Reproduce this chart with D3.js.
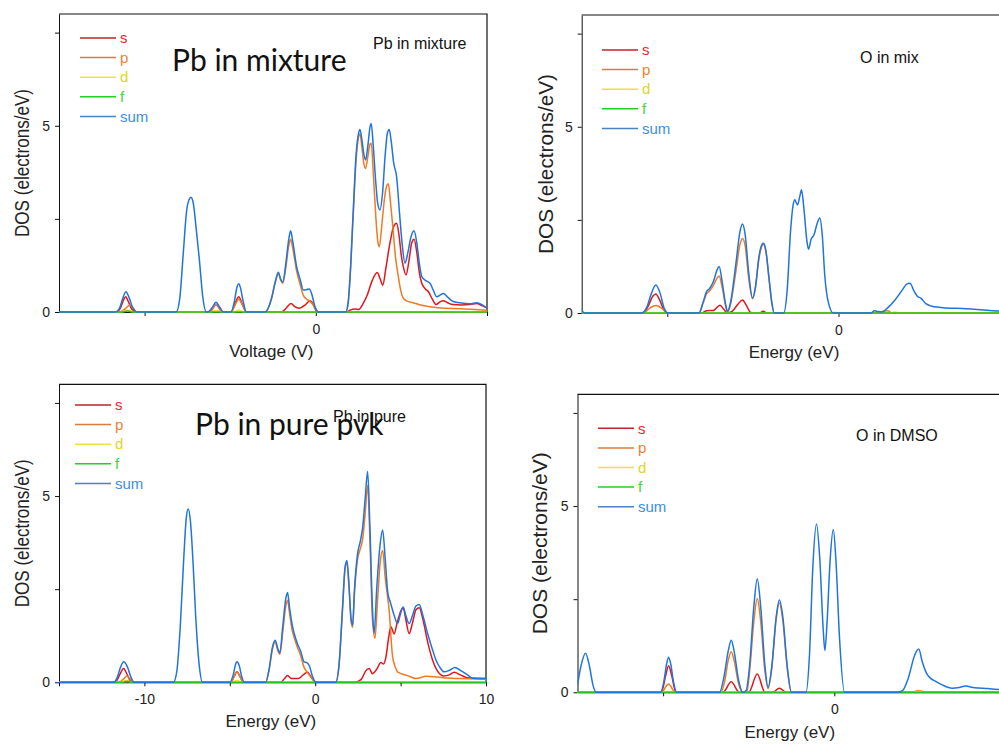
<!DOCTYPE html>
<html lang="en">
<head>
  <meta charset="utf-8">
  <title>Projected DOS, Pb and O</title>
  <style type="text/css">
    body { margin: 0; background: #fff; }
    svg { display: block; }
    text { font-family: "Liberation Sans", Arial, sans-serif; fill: #222; }
    .big { font-family: Lato, "Noto Sans", sans-serif; }
    .axis text { font-size: 14px; fill: #222; }
    .axis line, .axis path { stroke: #111; }
  </style>
</head>
<body>

<div id="graphic"></div>

<script src="https://cdnjs.cloudflare.com/ajax/libs/d3/7.8.5/d3.min.js"></script>
<script>
// ---- data: [energy (eV), DOS (electrons/eV)] ----
var energyDomain = [-15, 10];
var dosDomain = [0, 8];
var orbitals = ['s', 'p', 'd', 'f', 'sum'];

// Pb in mixture
var pbMixSum = [[-15,0],[-11.7,0],[-11.45,0.12],[-11.25,0.4],[-11.09,0.545],[-10.9,0.38],[-10.7,0.12],[-10.45,0],
  [-8.15,0],[-7.95,0.35],[-7.74,1.58],[-7.55,2.7],[-7.4,3.02],[-7.29,3.08],[-7.15,2.9],[-7.0,2.3],[-6.8,1.4],[-6.6,0.4],[-6.4,0],
  [-6.3,0],[-6.05,0.12],[-5.83,0.26],[-5.6,0.12],[-5.4,0],
  [-4.95,0],[-4.75,0.3],[-4.6,0.68],[-4.5,0.76],[-4.4,0.65],[-4.25,0.3],[-4.05,0],
  [-2.95,0],[-2.6,0.35],[-2.35,0.85],[-2.19,1.07],[-2.05,0.88],[-1.93,0.8],[-1.75,1.3],[-1.58,1.95],[-1.47,2.18],[-1.35,1.9],[-1.12,1.22],[-0.9,0.85],[-0.73,0.59],[-0.55,0.6],[-0.38,0.62],[-0.25,0.5],[-0.05,0.15],[0.15,0],
  [1.75,0],[1.9,0.3],[2.0,0.95],[2.19,2.74],[2.35,4.2],[2.5,4.8],[2.58,4.9],[2.7,4.6],[2.8,4.25],[2.91,4.08],[3.05,4.5],[3.16,4.95],[3.24,5.06],[3.35,4.5],[3.5,3.5],[3.62,2.9],[3.75,2.74],[3.9,3.2],[4.05,4.2],[4.18,4.8],[4.29,4.9],[4.4,4.6],[4.55,4.0],[4.72,3.63],[4.9,2.6],[5.05,1.8],[5.21,1.31],[5.38,1.6],[5.55,2.0],[5.74,2.18],[5.9,1.85],[6.05,1.3],[6.19,0.95],[6.4,0.85],[6.67,0.77],[6.85,0.6],[7.06,0.41],[7.25,0.45],[7.45,0.5],[7.7,0.4],[8.03,0.28],[8.5,0.24],[9.0,0.22],[9.4,0.25],[9.7,0.2],[10,0.1]];
var pbMixS = [[-15,0],[-11.65,0],[-11.4,0.12],[-11.2,0.35],[-11.1,0.41],[-10.95,0.28],[-10.75,0.08],[-10.5,0],
  [-6.2,0],[-5.83,0.2],[-5.45,0],[-4.95,0],[-4.7,0.25],[-4.5,0.41],[-4.3,0.22],[-4.05,0],
  [-2.0,0],[-1.7,0.12],[-1.45,0.23],[-1.25,0.15],[-0.95,0.1],[-0.6,0.2],[-0.35,0.3],[-0.2,0.25],[0.0,0.05],[0.2,0],
  [1.8,0],[2.0,0.05],[2.3,0.08],[2.5,0.07],[2.77,0.23],[3.0,0.45],[3.3,0.85],[3.59,1.06],[3.75,0.9],[3.91,0.72],[4.1,1.2],[4.35,1.9],[4.55,2.3],[4.72,2.38],[4.85,2.1],[5.0,1.5],[5.11,1.22],[5.27,1.0],[5.45,1.4],[5.6,1.85],[5.74,1.95],[5.9,1.6],[6.05,1.05],[6.19,0.77],[6.4,0.62],[6.57,0.55],[6.8,0.35],[7.02,0.2],[7.25,0.27],[7.45,0.3],[7.7,0.25],[8.0,0.2],[8.5,0.19],[9.0,0.2],[9.4,0.23],[9.7,0.17],[10,0.11]];
var pbMixP = [[-15,0],[-11.5,0],[-11.1,0.1],[-10.85,0.19],[-10.65,0.1],[-10.45,0],
  [-6.2,0],[-5.83,0.2],[-5.45,0],[-4.95,0],[-4.7,0.2],[-4.5,0.35],[-4.3,0.2],[-4.05,0],
  [-2.95,0],[-2.6,0.33],[-2.35,0.82],[-2.19,1.03],[-2.05,0.85],[-1.93,0.77],[-1.75,1.2],[-1.58,1.78],[-1.47,1.95],[-1.35,1.72],[-1.12,1.1],[-0.9,0.72],[-0.73,0.45],[-0.55,0.35],[-0.38,0.3],[-0.2,0.22],[0.0,0.08],[0.15,0],
  [1.75,0],[1.9,0.28],[2.0,0.9],[2.19,2.65],[2.35,4.05],[2.5,4.7],[2.58,4.78],[2.7,4.4],[2.8,4.0],[2.9,3.85],[3.05,4.2],[3.16,4.5],[3.24,4.53],[3.35,3.8],[3.5,2.6],[3.62,1.9],[3.71,1.75],[3.85,2.3],[4.0,3.0],[4.15,3.4],[4.24,3.44],[4.35,3.0],[4.5,2.29],[4.65,1.5],[4.82,0.95],[4.95,0.6],[5.11,0.37],[5.3,0.3],[5.69,0.25],[6.2,0.18],[6.67,0.14],[7.5,0.1],[8.5,0.09],[9.5,0.06],[10,0.05]];
var pbMixD = [[-15,0],[-11.4,0],[-11.0,0.05],[-10.6,0],[-6.1,0],[-5.83,0.04],[-5.5,0],[-4.8,0],[-4.5,0.05],[-4.2,0],[10,0]];
var pbMixF = [[-15,0],[-11.3,0],[-11.0,0.03],[-10.7,0],[10,0]];

// O in mix
var oMixSum = [[-15,0.1],[-14.85,0],[-11.5,0],[-11.2,0.15],[-10.95,0.5],[-10.67,0.75],[-10.4,0.5],[-10.2,0.15],[-9.95,0],
  [-8.15,0],[-7.9,0.3],[-7.7,0.58],[-7.56,0.64],[-7.3,0.85],[-7.1,1.15],[-6.97,1.25],[-6.8,0.85],[-6.6,0.25],[-6.48,0.04],[-6.3,0.3],[-6.0,1.3],[-5.75,2.2],[-5.61,2.39],[-5.45,2.1],[-5.25,1.1],[-5.02,0.4],[-4.85,0.7],[-4.65,1.5],[-4.45,1.85],[-4.38,1.87],[-4.25,1.7],[-4.05,0.9],[-3.9,0.3],[-3.75,0],
  [-3.2,0],[-3.0,0.6],[-2.8,2.2],[-2.65,2.9],[-2.55,3.04],[-2.4,2.9],[-2.25,3.15],[-2.16,3.31],[-2.0,2.7],[-1.85,1.95],[-1.75,1.71],[-1.6,1.98],[-1.43,2.1],[-1.25,2.4],[-1.09,2.55],[-0.95,2.1],[-0.8,1.0],[-0.6,0.3],[-0.3,0],
  [1.9,0],[2.1,0.06],[2.3,0.04],[2.55,0.03],[2.9,0.15],[3.3,0.35],[3.7,0.6],[4.0,0.78],[4.18,0.8],[4.4,0.6],[4.6,0.45],[4.81,0.4],[5.1,0.25],[5.39,0.19],[6.0,0.15],[6.56,0.13],[7.2,0.12],[7.9,0.1],[8.8,0.07],[9.4,0.05],[10,0.04]];
var oMixS = [[-15,0],[-11.4,0],[-11.1,0.2],[-10.85,0.45],[-10.67,0.51],[-10.45,0.35],[-10.2,0.08],[-10.0,0],
  [-8.0,0],[-7.7,0.06],[-7.3,0.07],[-7.1,0.15],[-6.92,0.21],[-6.7,0.1],[-6.5,0],[-6.2,0.05],[-5.85,0.25],[-5.61,0.35],[-5.4,0.22],[-5.15,0.02],[-5.0,0],[-4.6,0],[-4.4,0.05],[-4.2,0],[10,0]];
var oMixP = [[-15,0],[-11.4,0],[-11.0,0.14],[-10.67,0.2],[-10.3,0.12],[-10.0,0],
  [-8.15,0],[-7.9,0.28],[-7.7,0.52],[-7.56,0.58],[-7.3,0.75],[-7.1,0.93],[-6.97,0.99],[-6.8,0.7],[-6.6,0.2],[-6.48,0.03],[-6.3,0.25],[-6.0,1.1],[-5.75,1.85],[-5.61,2.0],[-5.45,1.8],[-5.25,0.95],[-5.02,0.38],[-4.85,0.68],[-4.65,1.45],[-4.45,1.82],[-4.38,1.84],[-4.25,1.67],[-4.05,0.88],[-3.9,0.28],[-3.75,0],
  [2.3,0],[2.6,0.05],[2.9,0.06],[3.1,0],[10,0]];
var oMixD = [[-15,0],[-0.4,0],[-0.2,0.02],[0,0],[3.0,0],[3.3,0.03],[3.6,0],[10,0]];
var oMixF = [[-15,0],[10,0]];

// Pb in pure pvk
var pbPureSum = [[-15,0],[-11.8,0],[-11.6,0.12],[-11.4,0.4],[-11.22,0.55],[-11.0,0.42],[-10.8,0.15],[-10.6,0],
  [-8.3,0],[-8.1,0.3],[-7.9,1.5],[-7.7,3.3],[-7.55,4.4],[-7.44,4.65],[-7.3,4.3],[-7.15,3.2],[-7.0,1.8],[-6.8,0.5],[-6.6,0],
  [-5.0,0],[-4.8,0.2],[-4.65,0.5],[-4.58,0.55],[-4.45,0.45],[-4.3,0.15],[-4.15,0],
  [-2.9,0],[-2.7,0.35],[-2.5,0.95],[-2.34,1.13],[-2.2,0.92],[-2.07,0.79],[-1.9,1.5],[-1.72,2.25],[-1.62,2.41],[-1.5,2.0],[-1.35,1.55],[-1.23,1.31],[-1.05,1.05],[-0.84,0.82],[-0.65,0.55],[-0.49,0.53],[-0.35,0.45],[-0.15,0.15],[0.05,0],
  [1.2,0],[1.4,0.5],[1.6,2.0],[1.75,3.1],[1.86,3.27],[1.98,2.6],[2.1,1.7],[2.19,1.53],[2.3,2.5],[2.48,3.45],[2.65,3.8],[2.78,4.16],[2.92,4.9],[3.07,5.66],[3.2,4.2],[3.35,2.0],[3.45,1.31],[3.6,2.5],[3.8,3.7],[3.95,4.09],[4.1,3.3],[4.25,2.4],[4.4,2.15],[4.62,1.8],[4.82,1.58],[5.0,1.85],[5.15,2.02],[5.3,1.8],[5.5,1.58],[5.7,1.8],[5.9,2.05],[6.09,2.09],[6.3,1.8],[6.58,1.31],[6.85,0.9],[7.07,0.6],[7.3,0.4],[7.55,0.28],[7.85,0.32],[8.18,0.4],[8.5,0.32],[8.92,0.2],[9.2,0.11],[10,0.1]];
var pbPureS = [[-15,0],[-11.7,0],[-11.45,0.2],[-11.22,0.37],[-11.0,0.2],[-10.75,0],
  [-4.95,0],[-4.75,0.15],[-4.58,0.28],[-4.4,0.15],[-4.2,0],
  [-2.0,0],[-1.8,0.1],[-1.62,0.18],[-1.4,0.1],[-1.0,0.1],[-0.7,0.2],[-0.45,0.27],[-0.25,0.15],[0.0,0],
  [2.3,0],[2.7,0.08],[2.95,0.3],[3.16,0.37],[3.35,0.23],[3.6,0.35],[3.85,0.53],[4.0,0.49],[4.15,0.7],[4.3,1.2],[4.43,1.49],[4.62,1.3],[4.8,1.6],[5.0,1.9],[5.15,2.0],[5.3,1.7],[5.5,1.31],[5.7,1.6],[5.9,1.95],[6.09,2.0],[6.3,1.7],[6.6,1.05],[6.87,0.6],[7.1,0.35],[7.55,0.17],[7.85,0.2],[8.14,0.27],[8.5,0.2],[8.92,0.12],[10,0.1]];
var pbPureP = [[-15,0],[-11.5,0],[-11.2,0.1],[-11.03,0.17],[-10.85,0.1],[-10.6,0],
  [-4.95,0],[-4.58,0.28],[-4.2,0],
  [-2.9,0],[-2.7,0.33],[-2.5,0.9],[-2.34,1.08],[-2.2,0.87],[-2.07,0.75],[-1.9,1.35],[-1.72,2.05],[-1.62,2.2],[-1.5,1.85],[-1.35,1.4],[-1.23,1.2],[-1.05,0.95],[-0.84,0.7],[-0.65,0.4],[-0.49,0.28],[-0.35,0.2],[-0.15,0.08],[0.05,0],
  [1.2,0],[1.4,0.48],[1.6,1.95],[1.75,3.05],[1.86,3.2],[1.98,2.55],[2.1,1.65],[2.19,1.48],[2.3,2.4],[2.48,3.3],[2.65,3.6],[2.78,3.85],[2.92,4.5],[3.07,5.28],[3.2,3.9],[3.35,1.7],[3.5,1.18],[3.65,2.2],[3.8,3.2],[3.95,3.54],[4.1,2.8],[4.33,1.93],[4.53,0.69],[4.7,0.4],[4.82,0.28],[5.41,0.18],[5.9,0.1],[6.5,0.16],[7.0,0.15],[7.5,0.12],[8.5,0.1],[10,0.08]];
var pbPureD = [[-15,0],[-11.5,0],[-11.1,0.05],[-10.7,0],[-4.9,0],[-4.58,0.05],[-4.3,0],[10,0]];
var pbPureF = [[-15,0],[-11.3,0],[-11.0,0.03],[-10.7,0],[10,0]];

// O in DMSO
var oDmsoSum = [[-15,0.2],[-14.8,0.7],[-14.53,1.05],[-14.3,0.7],[-14.1,0.2],[-13.9,0],
  [-10.15,0],[-9.95,0.3],[-9.8,0.75],[-9.68,0.94],[-9.55,0.75],[-9.4,0.3],[-9.2,0],
  [-6.7,0],[-6.45,0.4],[-6.2,1.1],[-6.02,1.4],[-5.85,1.1],[-5.6,0.35],[-5.35,0],[-5.15,0.05],[-4.95,0.7],[-4.7,2.3],[-4.5,3.04],[-4.3,2.3],[-4.05,0.7],[-3.87,0.13],[-3.65,0.7],[-3.4,2.0],[-3.21,2.48],[-3.0,2.0],[-2.75,0.7],[-2.5,0],
  [-1.65,0],[-1.45,1.0],[-1.25,3.4],[-1.04,4.52],[-0.85,3.6],[-0.65,1.7],[-0.55,1.12],[-0.42,1.9],[-0.25,3.5],[-0.06,4.37],[0.1,3.5],[0.3,1.5],[0.6,0],
  [3.7,0],[4.0,0.05],[4.3,0.35],[4.7,1.0],[4.93,1.16],[5.15,0.8],[5.4,0.5],[5.61,0.38],[5.9,0.3],[6.3,0.2],[6.88,0.11],[7.3,0.13],[7.66,0.17],[8.2,0.12],[9.0,0.1],[9.71,0.07],[10,0.05]];
var oDmsoS = [[-15,0],[-10.1,0],[-9.85,0.45],[-9.68,0.71],[-9.5,0.45],[-9.25,0],
  [-6.5,0],[-6.02,0.28],[-5.55,0],[-5.0,0],[-4.5,0.49],[-4.05,0],[-3.6,0],[-3.21,0.11],[-2.8,0],[10,0]];
var oDmsoP = [[-15,0],[-10.1,0],[-9.68,0.22],[-9.3,0],
  [-6.65,0],[-6.4,0.3],[-6.2,0.85],[-6.02,1.09],[-5.85,0.85],[-5.6,0.25],[-5.35,0],[-5.1,0.03],[-4.95,0.55],[-4.7,1.9],[-4.5,2.52],[-4.3,1.9],[-4.05,0.55],[-3.87,0.1],[-3.65,0.65],[-3.4,1.95],[-3.21,2.4],[-3.0,1.9],[-2.75,0.65],[-2.5,0],
  [4.5,0],[4.93,0.05],[5.3,0],[10,0]];
var oDmsoD = [[-15,0],[-9.9,0],[-9.68,0.03],[-9.4,0],[4.6,0],[4.93,0.03],[5.2,0],[10,0]];
var oDmsoF = [[-15,0],[10,0]];

// ---- styling ----
var lineColours = {s:'#e3161c', p:'#ef7a22', d:'#f0dc1e', f:'#22c322', sum:'#1f74e0'};
var keyColours  = {s:'#bf2328', p:'#df7a3c', d:'#f0e040', f:'#22d022', sum:'#4a80c4'};
var keyText     = {s:'#e8262a', p:'#ef7f33', d:'#dcd62a', f:'#3cd83c', sum:'#3a8ee6'};

// panel layout (pixels on the 999x745 page)
var panels = [
  {id:'pbMix', data:{s:pbMixS, p:pbMixP, d:pbMixD, f:pbMixF, sum:pbMixSum},
   left:59, right:487, top:14, zero:312, xTicks:[-10,0,10], xLabels:[0],
   xTitle:'Voltage (V)', xTitleY:357, yTitleX:29, yTitleLen:148,
   keyX:80, keyY:38, note:'Pb in mixture', noteX:373, noteY:49,
   big:'Pb in mixture', bigX:172, bigY:71},
  {id:'oMix', data:{s:oMixS, p:oMixP, d:oMixD, f:oMixF, sum:oMixSum},
   left:581.7, right:1009.7, top:15, zero:313, xTicks:[-10,0,10], xLabels:[0],
   xTitle:'Energy (eV)', xTitleY:358, yTitleX:553, yTitleLen:180,
   keyX:602, keyY:50, note:'O in mix', noteX:860, noteY:63},
  {id:'pbPure', data:{s:pbPureS, p:pbPureP, d:pbPureD, f:pbPureF, sum:pbPureSum},
   left:59, right:486, top:384.3, zero:682.3, xTicks:[-15,-10,-5,0,5,10], xLabels:[-10,0,10],
   xTitle:'Energy (eV)', xTitleY:727, yTitleX:29, yTitleLen:148,
   keyX:75, keyY:405, big:'Pb in pure pvk', bigX:195, bigY:435,
   note:'Pb in pure', noteX:333, noteY:422},
  {id:'oDmso', data:{s:oDmsoS, p:oDmsoP, d:oDmsoD, f:oDmsoF, sum:oDmsoSum},
   left:577.5, right:1005.5, top:394.3, zero:692.3, xTicks:[-10,0,10], xLabels:[0],
   xTitle:'Energy (eV)', xTitleY:738, yTitleX:547, yTitleLen:182,
   keyX:598, keyY:428.3, note:'O in DMSO', noteX:856, noteY:441}
];

var svg = d3.select('#graphic').append('svg')
  .attr('width', 999)
  .attr('height', 745);

function drawPanel(p) {
  var x = d3.scaleLinear().domain(energyDomain).range([p.left, p.right]);
  var y = d3.scaleLinear().domain(dosDomain).range([p.zero, p.top]);

  var g = svg.append('g').attr('class', 'panel ' + p.id);

  g.append('clipPath').attr('id', 'clip-' + p.id)
    .append('rect')
    .attr('x', p.left).attr('y', p.top)
    .attr('width', p.right - p.left).attr('height', p.zero - p.top + 2);

  // frame (top and right)
  g.append('path')
    .attr('d', 'M' + p.left + ',' + p.top + 'H' + p.right + 'V' + p.zero)
    .attr('fill', 'none').attr('stroke', '#111').attr('stroke-width', 1.2);

  // axes
  g.append('g').attr('class', 'axis')
    .attr('transform', 'translate(' + p.left + ',0)')
    .call(d3.axisLeft(y).tickValues([0, 2.5, 5, 7.5]).tickSize(4).tickSizeOuter(0).tickPadding(5)
      .tickFormat(function(d){ return d % 5 === 0 ? String(d) : ''; }));

  g.append('g').attr('class', 'axis')
    .attr('transform', 'translate(0,' + p.zero + ')')
    .call(d3.axisBottom(x).tickValues(p.xTicks).tickSize(4).tickSizeOuter(0).tickPadding(8)
      .tickFormat(function(d){ return p.xLabels.indexOf(d) >= 0 ? String(d) : ''; }));

  // curves
  var line = d3.line()
    .x(function(d){ return x(d[0]); })
    .y(function(d){ return y(d[1]); })
    .curve(d3.curveMonotoneX);

  g.append('g').attr('clip-path', 'url(#clip-' + p.id + ')')
    .selectAll('path')
    .data(orbitals)
    .enter()
    .append('path')
      .attr('d', function(k){ return line(p.data[k]); })
      .attr('fill', 'none')
      .attr('stroke', function(k){ return lineColours[k]; })
      .attr('stroke-width', 1.5)
      .attr('stroke-linejoin', 'round');

  // key
  var key = g.append('g')
    .selectAll('g')
    .data(orbitals)
    .enter()
    .append('g')
      .attr('transform', function(k, i){ return 'translate(' + p.keyX + ',' + (p.keyY + i * 19.6) + ')'; });
  key.append('line')
    .attr('x1', 0).attr('x2', 36)
    .attr('stroke', function(k){ return keyColours[k]; })
    .attr('stroke-width', 1.5);
  key.append('text')
    .attr('x', 40).attr('dy', '0.35em')
    .style('font-size', '15px')
    .style('fill', function(k){ return keyText[k]; })
    .text(function(k){ return k; });

  // titles
  g.append('text')
    .attr('x', x(-2.6))
    .attr('y', p.xTitleY)
    .attr('text-anchor', 'middle')
    .style('font-size', '17px')
    .text(p.xTitle);

  g.append('text')
    .attr('transform', 'translate(' + p.yTitleX + ',' + y(4.0) + ') rotate(-90)')
    .attr('text-anchor', 'middle')
    .attr('textLength', p.yTitleLen)
    .attr('lengthAdjust', 'spacingAndGlyphs')
    .style('font-size', '21px')
    .text('DOS (electrons/eV)');

  if (p.big) {
    g.append('text')
      .attr('class', 'big')
      .attr('x', p.bigX).attr('y', p.bigY)
      .style('font-size', '30px')
      .style('fill', '#111')
      .text(p.big);
  }
  g.append('text')
    .attr('x', p.noteX).attr('y', p.noteY)
    .style('font-size', '16px')
    .style('fill', '#111')
    .text(p.note);
}

panels.forEach(drawPanel);
</script>
</body>
</html>
